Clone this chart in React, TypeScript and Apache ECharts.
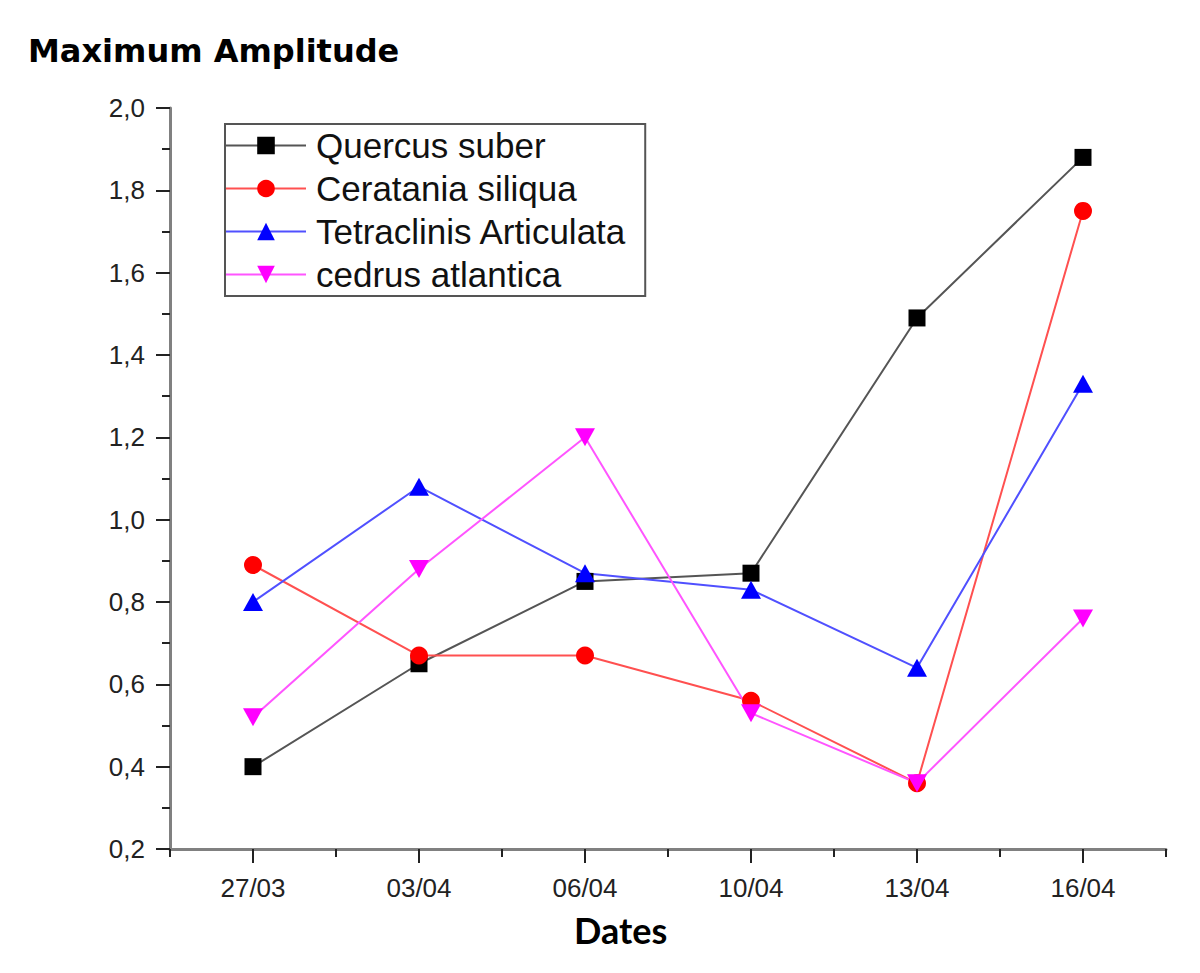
import React, { useEffect, useRef } from "react";
import * as echarts from "echarts";

const dates = ["27/03", "03/04", "06/04", "10/04", "13/04", "16/04"];
const quercusSuber = [0.4, 0.65, 0.85, 0.87, 1.49, 1.88];
const ceratoniaSiliqua = [0.89, 0.67, 0.67, 0.56, 0.36, 1.75];
const tetraclinis = [0.8, 1.08, 0.87, 0.83, 0.64, 1.33];
const cedrus = [0.52, 0.88, 1.2, 0.53, 0.36, 0.76];
const seriesNames = ["Quercus suber", "Ceratania siliqua", "Tetraclinis Articulata", "cedrus atlantica"];

export default function App() {
  const ref = useRef<HTMLDivElement>(null);
  useEffect(() => {
    if (!ref.current) return;
    const chart = echarts.init(ref.current, null, { renderer: "svg" });
    const labelFont = "'Liberation Sans', Arial, sans-serif";
    const mk = (name: string, data: number[], line: string, fill: string, symbol: string, size: any) => ({
      name,
      type: "line",
      data,
      symbol,
      symbolSize: size,
      lineStyle: { color: line, width: 2 },
      itemStyle: { color: fill },
    });
    chart.setOption({
      animation: false,
      backgroundColor: "#fff",
      title: {
        text: "Maximum Amplitude",
        left: 23,
        top: 30,
        textStyle: { fontFamily: "'DejaVu Sans', Verdana, sans-serif", fontWeight: "bold", fontSize: 32, color: "#000" },
      },
      grid: { left: 170, top: 108, right: 34, bottom: 124, containLabel: false },
      legend: {
        orient: "vertical",
        left: 225,
        top: 124,
        padding: [4, 18, 4, 0],
        itemGap: 8,
        itemWidth: 80,
        itemHeight: 22,
        borderColor: "#555",
        borderWidth: 2,
        data: seriesNames,
        lineStyle: { width: 2 },
        textStyle: { fontFamily: labelFont, fontSize: 35, color: "#111", padding: [0, 0, 0, 5] },
      },
      xAxis: [
        {
          type: "category",
          data: dates,
          boundaryGap: true,
          axisLine: { show: true, onZero: false, lineStyle: { color: "#808080", width: 3 } },
          axisTick: { show: true, alignWithLabel: true, length: 14, lineStyle: { color: "#222", width: 2 } },
          axisLabel: { fontFamily: labelFont, fontSize: 26, color: "#222", margin: 26 },
          splitLine: { show: false },
        },
        {
          type: "category",
          data: dates,
          boundaryGap: true,
          position: "bottom",
          axisLine: { show: false, onZero: false },
          axisTick: { show: true, length: 8, lineStyle: { color: "#222", width: 2 } },
          axisLabel: { show: false },
          splitLine: { show: false },
        },
      ],
      yAxis: {
        type: "value",
        min: 0.2,
        max: 2.0,
        interval: 0.2,
        axisLine: { show: true, lineStyle: { color: "#808080", width: 3 } },
        axisTick: { show: true, length: 14, lineStyle: { color: "#222", width: 2 } },
        minorTick: { show: true, splitNumber: 2, length: 8, lineStyle: { color: "#222", width: 2 } },
        axisLabel: {
          fontFamily: labelFont,
          fontSize: 26,
          color: "#222",
          margin: 25,
          formatter: (v: number) => v.toFixed(1).replace(".", ","),
        },
        splitLine: { show: false },
      },
      graphic: [
        {
          type: "text",
          left: 574,
          top: 912,
          style: {
            text: "Dates",
            fontFamily: "Lato, 'Open Sans', sans-serif",
            fontWeight: "bold",
            fontSize: 36,
            fill: "#000",
          },
        },
      ],
      series: [
        mk(seriesNames[0], quercusSuber, "#555", "#000", "rect", 17),
        mk(seriesNames[1], ceratoniaSiliqua, "#ff5050", "#ff0000", "circle", 18),
        mk(seriesNames[2], tetraclinis, "#5050ff", "#0000ff", "triangle", [20, 18]),
        mk(seriesNames[3], cedrus, "#ff55ff", "#ff00ff", "path://M0,0L10,0L5,9Z", [20, 18]),
      ],
    });
    return () => chart.dispose();
  }, []);
  return (
    <div
      ref={ref}
      style={{ position: "fixed", left: 0, top: 0, width: 1200, height: 973, background: "#fff" }}
    />
  );
}
